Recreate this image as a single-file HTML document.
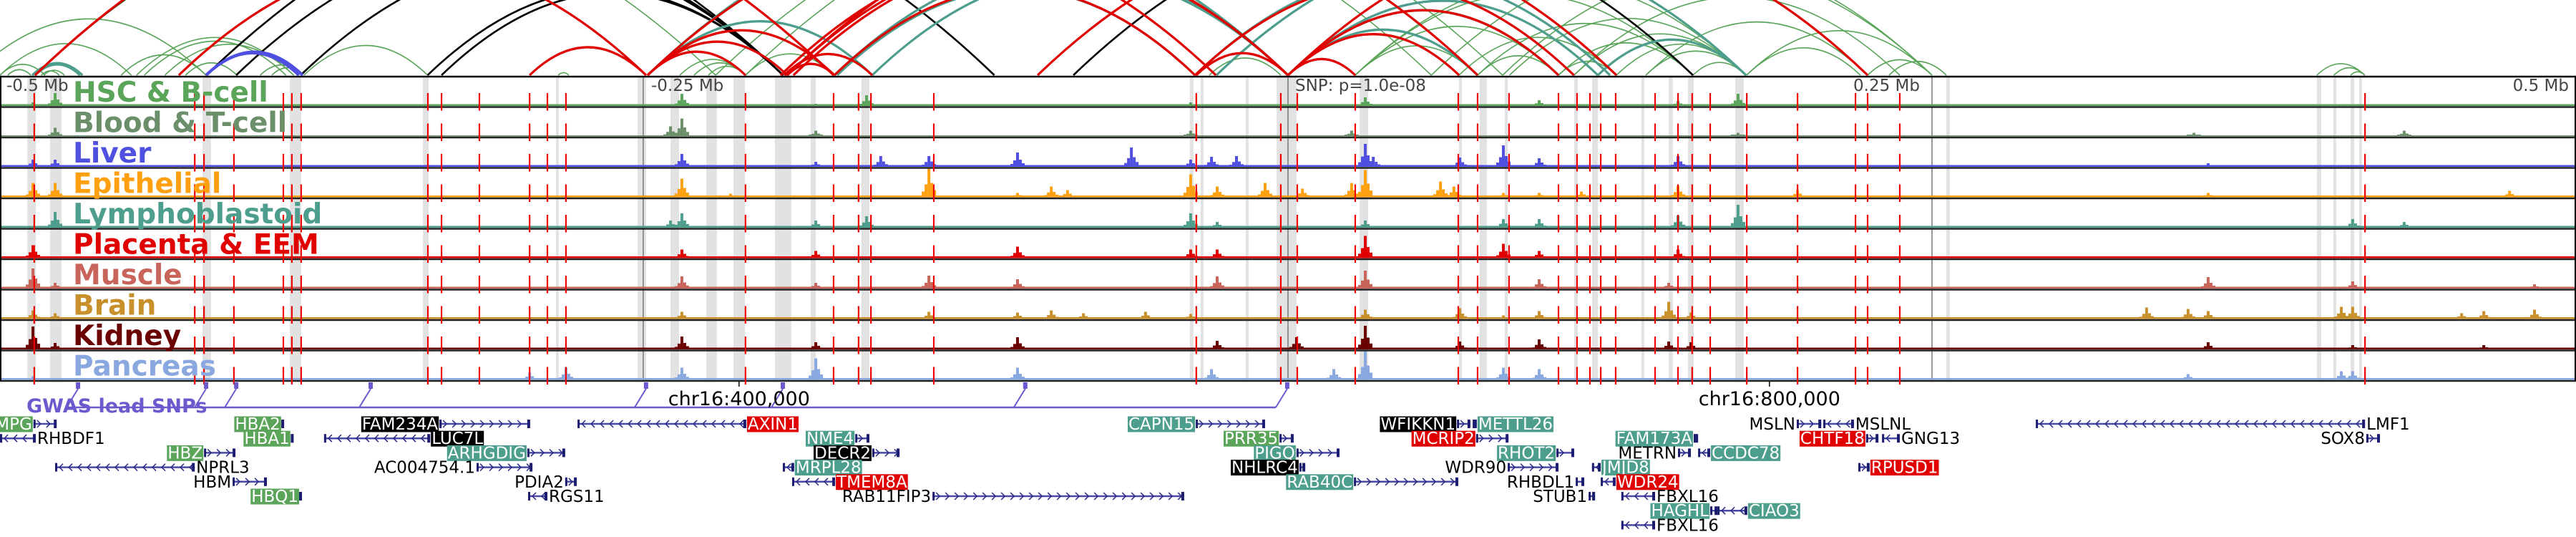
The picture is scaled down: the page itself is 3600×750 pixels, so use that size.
<!DOCTYPE html>
<html><head><meta charset="utf-8">
<style>
html,body{margin:0;padding:0;background:#fff;}
svg{display:block;font-family:"DejaVu Sans","Liberation Sans",sans-serif;}
</style></head>
<body>
<svg id="chart" width="3600" height="750" viewBox="0 0 3600 750" xmlns="http://www.w3.org/2000/svg">
<g id="arcs"></g>
<g id="bands"></g>
<g id="signals"></g>
<g id="frame"></g>
<g id="redlines"></g>
<g id="labels"></g>
<g id="gwas"></g>
<g id="genes"></g>
</svg>
<script>
// ---------- data ----------
const trackNames = ["HSC & B-cell","Blood & T-cell","Liver","Epithelial","Lymphoblastoid","Placenta & EEM","Muscle","Brain","Kidney","Pancreas"];
const trackColors = ["#5aa55a","#6a8f6a","#5050e0","#ffa010","#4e9e8e","#e00000","#c8645a","#c8902a","#6b0000","#8aa8e0"];
const axisTicks = [["-0.5 Mb",0],["-0.25 Mb",250],["SNP: p=1.0e-08",500],["0.25 Mb",750],["0.5 Mb",1000]];
const darkLines = [249.7,500,750];
const redLines = [13.3,75.6,79.2,90.8,110,113.3,116.9,166.1,171.4,186.1,205.6,212.5,219.7,289.4,323.6,333.3,338.1,362.5,464.4,497.2,503.6,526.1,566.1,573.6,585.8,605,612.2,617.2,621.4,627.2,642.5,651.4,656.9,663.9,678.1,697.8,720.3,725,737.5,918.1];
const bandStarts = [10.6,19.4,78.6,112.5,164.2,215.8,247.5,260.3,274.2,284.7,300.8,314.7,334.4,461.9,466.1,483.6,495.6,527.8,566.4,574.4,584.2,611.1,618.1,637.2,647.8,655.3,673.6,755.6,899.4,905.8,912.5,915.8];
const bandEnds   = [13.9,23.9,81.9,116.9,166.4,216.9,250.8,263.6,278.3,289.2,307.2,316.7,337.5,463.3,467.2,484.7,503.3,531.1,567.5,577.2,585.3,612.5,620.3,638.3,649.4,657.5,676.9,756.9,901.1,906.9,913.9,916.9];
const peakSites = [12.8,21.4,205.6,219.7,260.3,264.7,283.6,316.7,336.4,341.9,360.6,395,408.1,414.4,420.6,439.2,444.7,462.2,470.3,472.5,480,491.1,503.3,505.6,517.8,524.7,530,533.1,559.2,564.4,566.7,583.6,597.5,613.9,647.8,651.4,656.4,674.7,697.8,833.3,849.4,851.7,857.2,908.9,913.3,933.3,955.6,964.2,974.2,983.9];
const hscPeaks = [[0,5],[1,18],[5,17],[7,3],[8,15],[17,5],[26,12],[32,8],[35,7],[37,17]];
const bloodPeaks = [[1,12],[4,14],[5,25],[7,8],[17,8],[25,8],[37,5],[41,5],[45,8]];
const liverPeaks = [[0,10],[1,10],[5,18],[7,7],[9,15],[10,15],[11,20],[15,27],[17,10],[18,14],[20,15],[26,32],[27,14],[30,13],[31,30],[32,12],[35,15],[42,5]];
const epiPeaks = [[0,20],[1,20],[5,26],[6,5],[10,40],[11,6],[12,15],[13,10],[17,32],[19,15],[21,20],[23,12],[25,20],[26,38],[28,22],[29,15],[31,6],[32,6],[33,8],[35,16],[38,10],[42,6],[48,9]];
const lymphPeaks = [[1,22],[4,10],[5,20],[7,10],[8,16],[17,20],[19,8],[26,10],[31,12],[32,12],[35,17],[37,32],[44,12],[45,8]];
const placentaPeaks = [[0,18],[5,12],[7,10],[11,16],[17,12],[19,12],[26,31],[31,20],[32,10],[35,12]];
const musclePeaks = [[0,28],[1,8],[5,17],[7,8],[10,18],[11,13],[19,17],[26,25],[32,13],[34,8],[42,16],[44,10],[49,6]];
const brainPeaks = [[0,12],[1,8],[5,10],[10,10],[11,9],[12,12],[14,8],[16,10],[17,7],[26,13],[30,15],[31,5],[32,11],[34,24],[36,9],[39,16],[40,14],[42,11],[43,17],[44,17],[46,8],[47,11],[49,13]];
const kidneyPeaks = [[0,32],[1,9],[5,18],[7,10],[11,17],[19,12],[22,17],[26,33],[30,11],[32,14],[34,11],[36,10],[42,10],[44,6],[47,6]];
const pancreasPeaks = [[0,5],[2,10],[3,17],[5,17],[7,30],[11,17],[18,15],[24,15],[26,40],[31,17],[32,15],[40,8],[43,12],[44,12]];
const trackPeaks = [hscPeaks,bloodPeaks,liverPeaks,epiPeaks,lymphPeaks,placentaPeaks,musclePeaks,brainPeaks,kidneyPeaks,pancreasPeaks];
// arcs: [start kb, end kb, type]
const arcStarts = [-11,0,0,3,16,17,47,53,56,64,72,101,105.5,118,216.7,13.6,13.6,12.5,13.6,80,166,171.4,91.7,116.7,13.6,205.6,69.4,251.4,251.4,251.4,251.4,251.4,251.4,305.6,303,308,305.6,305.6,304.4,263.9,269.4,275,289.4,277.8,289.4,323.9,338.6,323.9,325,463.9,463.9,464.4,469.4,500,500,500,500,500,500,305.6,402.8,416.7,472.2,500,526.1,526.1,526.1,526.1,566.4,573.6,586,605,611,620.3,627.5,638.9,605,573.6,657.2,555.6,583.3,678,678,725,733.3,638.9,611,899.4,906,912.5,620.3,80,80];
const arcEnds   = [80,51,17.5,12,23,25,80,114,111,114,92,117.5,117.5,166,220.8,277.8,31,32,304,386,304,304,304,304,323.6,250.8,250.8,289.4,323.9,305.6,338.6,472,500,500,500,500,500,323.9,338.6,289.4,289.4,289.4,323.9,555.6,583.3,500,500,463.9,463.9,611,625,500,497.2,526.1,566.4,605,605,620.3,573.6,573.6,627.5,657.2,677.8,725,605,573.6,657.2,677.8,627.5,657.2,677.8,657.2,677.8,677.8,677.8,677.8,627.5,605,677.8,750,750,722.2,750,750,755.6,725,737.5,918,918,918,677.8,117.5,116];
const arcTypes  = ["g","g","g","g","g","g","g","g","g","g","g","g","g","g","g","g","t","t","k","k","k","k","k","k","r","r","r","r","r","r","t","r","t","r","r","r","k","r","r","g","g","g","g","g","g","t","t","r","t","r","t","r","g","r","r","r","t","t","t","r","r","k","t","r","g","g","g","g","g","g","g","g","g","g","g","g","g","g","g","g","g","g","g","g","g","g","g","g","g","g","t","b","b"];
const snpPositions = [30.3,80,91.7,143.9,250.8,303.9,398,499.7];
// genes: name, start kb, end kb, strand, label side, box colour key, row
const geneNames = ["MPG","RHBDF1","HBA2","HBA1","HBZ","NPRL3","HBM","HBQ1","FAM234A","LUC7L","ARHGDIG","AC004754.1","PDIA2","RGS11","AXIN1","NME4","DECR2","MRPL28","TMEM8A","RAB11FIP3","CAPN15","PRR35","PIGQ","NHLRC4","RAB40C","WFIKKN1","METTL26","MCRIP2","RHOT2","WDR90","RHBDL1","STUB1","FAM173A","METRN","CCDC78","JMJD8","WDR24","FBXL16","HAGHL","FBXL16","CIAO3","MSLN","MSLNL","CHTF18","GNG13","RPUSD1","LMF1","SOX8"];
const geneStarts = [13,0,109.4,113,79.2,21.4,90.3,116.4,170.6,125.8,204.7,185,219.4,205,224.2,332,338.6,303.9,307.5,362,464.2,496.7,503.3,504.4,525.6,565.6,571.7,573,604.2,585.3,611.7,616.7,657.5,651.4,659.2,618,621.4,629.4,663.9,629.4,666.7,697.5,707.8,724.4,730.6,721.4,790.3,918.6];
const geneEnds   = [22,13.9,110.3,114,91.4,75.6,103.6,117.2,205.8,167,219.4,206.7,223.9,212.5,289.7,337.5,349.2,308.3,324.2,459.7,491.1,502.2,520,506.7,566.1,570.8,573.3,585.6,611.1,605,615,619.2,659.2,656.4,663.9,621.4,627.2,642.5,666.7,642.5,678.3,707,719.7,729.2,737.5,725.8,918.1,923.9];
const geneStrands = ["+","-","+","+","+","-","+","+","+","-","+","+","+","-","-","+","+","-","-","+","+","+","+","+","+","+","-","+","+","+","+","+","+","+","-","-","-","-","+","-","-","+","-","+","-","+","-","+"];
const labelSides = ["L","R","L","L","L","R","L","L","L","R","L","L","L","R","R","L","L","R","R","L","L","L","L","L","L","L","R","L","L","L","L","L","L","L","R","R","R","R","L","R","R","L","R","L","R","R","R","L"];
const labelBoxes = ["g","","g","g","g","","","g","k","k","t","","","","r","t","k","t","r","","t","g","t","k","t","k","t","r","t","","","","t","","t","t","r","","t","","t","","","r","","r","",""];
const geneRows = [0,1,0,1,2,3,4,5,0,1,2,3,4,5,0,1,2,3,4,5,0,1,2,3,4,0,0,1,2,3,4,5,1,2,2,3,4,5,6,7,6,0,0,1,1,3,0,1];

// ---------- layout ----------
const NS="http://www.w3.org/2000/svg";
const X = kb => kb*3.6;
const TRACK_TOP=107, TRACK_H=42.5, NTR=10;
const trackBottom = i => TRACK_TOP+(i+1)*TRACK_H;
const arcColors={g:"#5aa55a",t:"#4e9e8e",r:"#e00000",k:"#000000",b:"#5050e0"};
const arcWidths={g:1.6,t:3.2,r:3.2,k:2.6,b:4};
const boxColors={g:"#5aa55a",t:"#4e9e8e",r:"#e00000",k:"#000000"};
function mk(tag,attrs,parent){const e=document.createElementNS(NS,tag);for(const k in attrs)e.setAttribute(k,attrs[k]);parent.appendChild(e);return e;}

// arcs
const arcG=document.getElementById('arcs');
const arcOrder=[...arcTypes.keys()].sort((a,b)=>"gkbtr".indexOf(arcTypes[a])-"gkbtr".indexOf(arcTypes[b]));
for(const i of arcOrder){
  const x1=X(arcStarts[i]),x2=X(arcEnds[i]);const base=105;
  const H=0.24*(x2-x1);
  const p=mk('path',{d:`M${x1},${base} Q${(x1+x2)/2},${base-2*H} ${x2},${base}`,fill:"none",stroke:arcColors[arcTypes[i]],'stroke-width':arcWidths[arcTypes[i]]},arcG);
  
  
}

// bands
const bandG=document.getElementById('bands');
for(let i=0;i<bandStarts.length;i++){
  const r=mk('rect',{x:X(bandStarts[i]),y:TRACK_TOP,width:Math.max(3,X(bandEnds[i])-X(bandStarts[i])),height:NTR*TRACK_H,fill:"#e2e2e2"},bandG);
  
  
}
for(const d of darkLines){
  const l=mk('line',{x1:X(d),x2:X(d),y1:TRACK_TOP,y2:trackBottom(NTR-1),stroke:"#777",'stroke-width':1.5},bandG);
  
  
}

// signals
const sigG=document.getElementById('signals');
for(let t=0;t<NTR;t++){
  const g=mk('g',{fill:trackColors[t]},sigG);
  
  
  const yb=trackBottom(t)-1.5;
  mk('rect',{x:0,y:yb-(t==1?1.5:2.5),width:3600,height:(t==1?1.5:2.5)},g);
  for(const [si,v] of trackPeaks[t]){
    const cx=X(peakSites[si]);
    [[0,1],[-4,0.45],[4,0.5],[-8,0.2],[8,0.25]].forEach(([dx,f])=>{
      const h=Math.max(2.5,v*f);
      const r=mk('rect',{x:cx+dx-2,y:yb-h,width:4,height:h},g);
      
      
    });
  }
}

// frame
const frG=document.getElementById('frame');
mk('line',{x1:0,x2:3600,y1:TRACK_TOP,y2:TRACK_TOP,stroke:"#000",'stroke-width':2.5},frG);
for(let t=0;t<NTR;t++){
  const l=mk('line',{x1:0,x2:3600,y1:trackBottom(t),y2:trackBottom(t),stroke:"#222",'stroke-width':2.5},frG);
  
  
}
mk('line',{x1:1,x2:1,y1:TRACK_TOP,y2:trackBottom(NTR-1),stroke:"#000",'stroke-width':2},frG);
mk('line',{x1:3599,x2:3599,y1:TRACK_TOP,y2:trackBottom(NTR-1),stroke:"#000",'stroke-width':2},frG);

// red lines
const rlG=document.getElementById('redlines');
for(const v of redLines){
  for(let t=0;t<NTR;t++){
    const top=TRACK_TOP+t*TRACK_H;
    const l=mk('line',{x1:X(v),x2:X(v),y1:top+23,y2:trackBottom(t)+5,stroke:"#f00000",'stroke-width':2.2},rlG);
    
    
  }
}

// labels + axis tick labels
const lbG=document.getElementById('labels');
for(let t=0;t<NTR;t++){
  const tx=mk('text',{x:102,y:TRACK_TOP+t*TRACK_H+35,fill:trackColors[t],'font-size':39,'font-weight':'bold'},lbG);
  tx.textContent=trackNames[t];
  
  
}
axisTicks.forEach(([s,kb],i)=>{
  let x=X(kb), anchor='start';
  if(i==0)x=9; if(i==1)x=910; if(i==2)x=1810; if(i==3)x=2590; if(i==4){x=3590;anchor='end';}
  const tx=mk('text',{x:x,y:127,fill:"#444",'font-size':23,'text-anchor':anchor},lbG);
  tx.textContent=s;
  
  
});

// GWAS
const gw=document.getElementById('gwas');
const lineY=569;
const hl=mk('line',{x1:X(snpPositions[0])-16,x2:X(snpPositions[snpPositions.length-1])-16,y1:lineY,y2:lineY,stroke:"#6a5acd",'stroke-width':2.5},gw);


for(const p of snpPositions){
  const x=X(p);
  const r=mk('rect',{x:x-3,y:534,width:6,height:9,fill:"#6a5acd"},gw);
  
  
  mk('line',{x1:x,x2:x-16,y1:543,y2:lineY,stroke:"#6a5acd",'stroke-width':2},gw);
}
const gt=mk('text',{x:37,y:576,fill:"#6a5acd",'font-size':27,'font-weight':'bold'},gw);
gt.textContent="GWAS lead SNPs";


[["chr16:400,000",286.9],["chr16:800,000",686.9]].forEach(([s,kb])=>{
  mk('line',{x1:X(kb),x2:X(kb),y1:533,y2:540,stroke:"#000",'stroke-width':1.5},gw);
  const tx=mk('text',{x:X(kb),y:566,'font-size':27,'text-anchor':'middle',fill:"#000"},gw);
  tx.textContent=s;
  
  
});

// genes
const gg=document.getElementById('genes');
for(let i=0;i<geneNames.length;i++){
  const y=592+20.2*geneRows[i];
  const x1=X(geneStarts[i]),x2=X(geneEnds[i]);
  const g=mk('g',{},gg);
  
  
  mk('line',{x1:x1,x2:x2,y1:y,y2:y,stroke:"#4a4aa8",'stroke-width':2.5},g);
  for(let cx=x1+8;cx<x2-4;cx+=13){
    const d=geneStrands[i]=="+"?`M${cx-3},${y-5} L${cx+2},${y} L${cx-3},${y+5}`:`M${cx+3},${y-5} L${cx-2},${y} L${cx+3},${y+5}`;
    mk('path',{d:d,fill:"none",stroke:"#2a2a80",'stroke-width':1.5},g);
  }
  mk('rect',{x:x1,y:y-6,width:3,height:12,fill:"#1c1c70"},g);
  mk('rect',{x:x2-4,y:y-6,width:4,height:12,fill:"#1c1c70"},g);
  const tx=mk('text',{y:y+8,'font-size':23,fill:labelBoxes[i]?"#fff":"#000"},g);
  tx.textContent=geneNames[i];
  const w=tx.getComputedTextLength();
  const lx=labelSides[i]=="L"?x1-w-2:x2+2;
  tx.setAttribute('x',lx);
  if(labelBoxes[i]){
    const r=document.createElementNS(NS,'rect');
    r.setAttribute('x',lx-1);r.setAttribute('y',y-10.5);r.setAttribute('width',w+2);r.setAttribute('height',22);
    r.setAttribute('fill',boxColors[labelBoxes[i]]);
    g.insertBefore(r,tx);
  }
}
</script>
</body></html>
